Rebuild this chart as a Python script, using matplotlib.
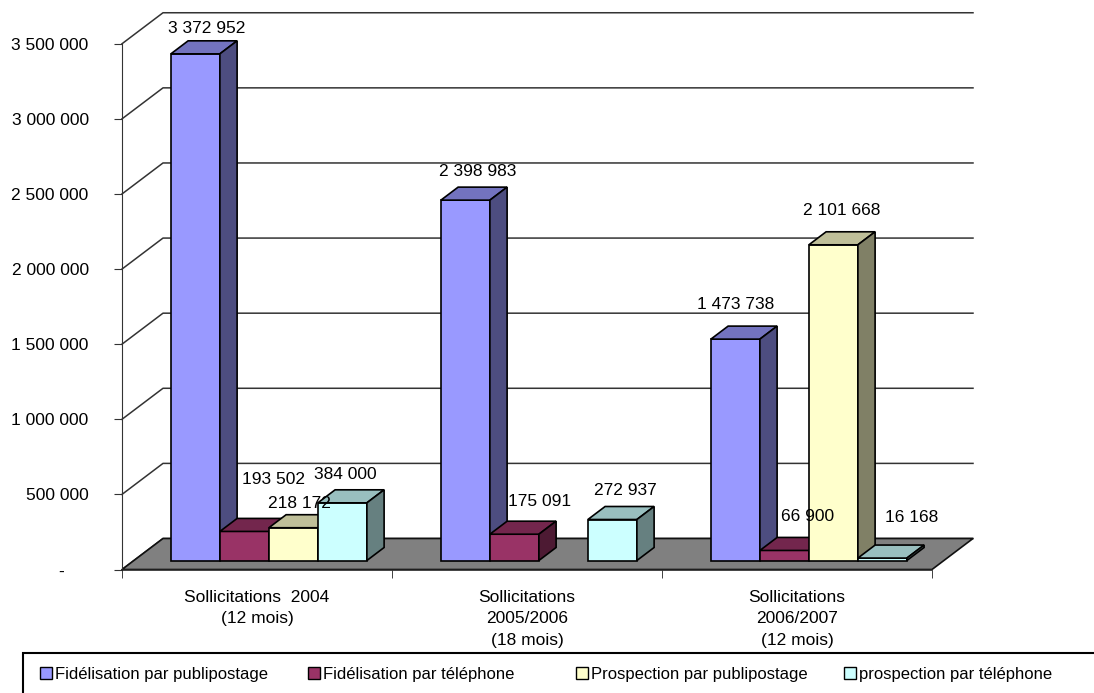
import matplotlib
matplotlib.use('Agg')
import matplotlib.pyplot as plt
from matplotlib.patches import Polygon, Rectangle, Patch
import numpy as np

# ------------------------- Données -------------------------
categories = ['Sollicitations  2004\n(12 mois)',
              'Sollicitations\n2005/2006\n(18 mois)',
              'Sollicitations\n2006/2007\n(12 mois)']
series = ['Fidélisation par publipostage', 'Fidélisation par téléphone',
          'Prospection par publipostage', 'prospection par téléphone']
fidel_publi = [3372952, 2398983, 1473738]
fidel_tel = [193502, 175091, 66900]
prosp_publi = [218172, np.nan, 2101668]
prosp_tel = [384000, 272937, 16168]
yticks = [0, 500000, 1000000, 1500000, 2000000, 2500000, 3000000, 3500000]

# ------------------------- Style -------------------------
plt.rcParams['font.family'] = ['Liberation Sans', 'DejaVu Sans']
plt.rcParams['font.size'] = 12.5

couleurs = ['#9999FF', '#993366', '#FFFFCC', '#CCFFFF']

def assombrir(c, f):
    r, g, b = matplotlib.colors.to_rgb(c)
    return (r * f, g * f, b * f)

# profondeur (en unités de données)
DX = 41 / 270          # décalage x de la profondeur complète
DY = 31 * 500000 / 75.1  # décalage y de la profondeur complète
F0 = 0.29              # position de la face avant des barres
BD = 0.42              # profondeur des barres
W = 49 / 270           # largeur d'une barre

# décalage des étiquettes (pixels) par rapport au dessus de la barre
decal_etiq = [[(3, 12), (20, 39), (-3, 11), (-6, 15)],
              [(4, 16), (17, 20), (0, 16), (4, 16)],
              [(-8, 22), (15, 21), (0, 21), (21, 28)]]

fig = plt.figure(figsize=(10.94, 6.93), dpi=100)
ax = fig.add_axes([122 / 1094, (693 - 569.5) / 693, 864 / 1094, 564.8 / 693])
ax.set_xlim(0, 3.2)
ax.set_ylim(0, 3.76e6)

for s in ['top', 'right']:
    ax.spines[s].set_visible(False)
ax.spines['left'].set_bounds(0, 3500000)
ax.spines['bottom'].set_bounds(0, 3)
ax.spines['left'].set_color('#333333')
ax.spines['bottom'].set_color('#222222')
ax.spines['bottom'].set_linewidth(1.2)

def fmt(v):
    if v == 0:
        return '-'
    return f'{int(v):,}'.replace(',', ' ')

ax.set_yticks(yticks)
ax.set_yticklabels([fmt(v) + '     ' if v == 0 else fmt(v) for v in yticks])
ax.tick_params(axis='y', length=6, pad=18, color='#333333')

ax.set_xticks([0.5, 1.5, 2.5])
ax.set_xticklabels(categories, linespacing=1.55)
ax.set_xticks([0, 1, 2, 3], minor=True)
ax.tick_params(axis='x', which='major', length=0, pad=14.5)
ax.tick_params(axis='x', which='minor', length=6, color='#222222')

# murs : quadrillage
for v in yticks:
    ax.plot([0, DX, 3 + DX], [v, v + DY, v + DY], color='#333333', lw=1.1, zorder=1,
            clip_on=False)

# sol
sol = Polygon([(0, 0), (3, 0), (3 + DX, DY), (DX, DY)], closed=True,
              facecolor='#808080', edgecolor='#111111', lw=1.2, zorder=2)
ax.add_patch(sol)

donnees = [fidel_publi, fidel_tel, prosp_publi, prosp_tel]
z = 3
for g in range(len(categories)):
    centre = g + 0.5 + F0 * DX
    for s, vals in enumerate(donnees):
        v = vals[g]
        if np.isnan(v):
            continue
        x0 = centre - 2 * W + s * W
        b = F0 * DY
        c = couleurs[s]
        ax.bar(x0, v, width=W, bottom=b, align='edge', color=c,
               edgecolor='black', lw=1.2, zorder=z)
        haut = Polygon([(x0, b + v), (x0 + W, b + v),
                        (x0 + W + BD * DX, b + v + BD * DY), (x0 + BD * DX, b + v + BD * DY)],
                       closed=True, facecolor=assombrir(c, 0.75), edgecolor='black',
                       lw=1.2, zorder=z)
        cote = Polygon([(x0 + W, b), (x0 + W, b + v),
                        (x0 + W + BD * DX, b + v + BD * DY), (x0 + W + BD * DX, b + BD * DY)],
                       closed=True, facecolor=assombrir(c, 0.5), edgecolor='black',
                       lw=1.2, zorder=z)
        ax.add_patch(haut)
        ax.add_patch(cote)
        z += 1
        dx, dy = decal_etiq[g][s]
        ax.annotate(fmt(v), (x0 + W / 2 + BD * DX / 2, b + v + BD * DY),
                    xytext=(dx, dy), textcoords='offset pixels',
                    ha='center', va='center', zorder=50)

# légende (colonnes de largeur égale, comme Excel)
cadre = Rectangle((23 / 1094, -0.1), 1.2, (693 - 653) / 693 + 0.1,
                  transform=fig.transFigure, facecolor='none',
                  edgecolor='black', lw=1.5, clip_on=False)
fig.patches.append(cadre)
for i, (nom, c) in enumerate(zip(series, couleurs)):
    fig.legend([Patch(facecolor=c, edgecolor='black', lw=1)], [nom],
               loc='center left', bbox_to_anchor=((40 + 268 * i) / 1094, (693 - 674) / 693),
               frameon=False, fontsize=12, handlelength=0.7, handleheight=0.7,
               handletextpad=0.2, borderpad=0, borderaxespad=0)

fig.savefig('out.png', dpi=100)
